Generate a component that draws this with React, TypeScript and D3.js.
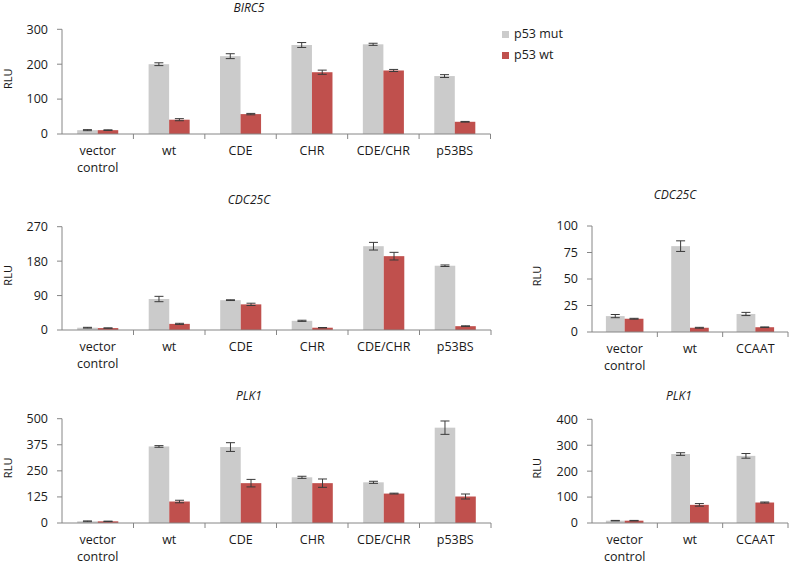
import React from "react";
import * as d3 from "d3";

// luciferase reporter data
const series = ["p53 mut", "p53 wt"];
const longCategories = ["vector control", "wt", "CDE", "CHR", "CDE/CHR", "p53BS"];
const shortCategories = ["vector control", "wt", "CCAAT"];

const birc5Mut = [11, 200, 223, 255, 257, 166];
const birc5MutErr = [1.5, 4, 7, 7, 3, 4];
const birc5Wt = [11, 41, 57, 177, 182, 35];
const birc5WtErr = [1, 3, 2, 6, 3, 1];
const birc5Ticks = [0, 100, 200, 300];

const cdc25cMut = [6, 81, 78, 24, 219, 168];
const cdc25cMutErr = [1, 7, 1, 1.5, 10, 2];
const cdc25cWt = [5, 16, 67, 6, 193, 10];
const cdc25cWtErr = [0.5, 1.5, 3, 0.5, 10, 1];
const cdc25cTicks = [0, 90, 180, 270];

const cdc25cShortMut = [15, 81, 17];
const cdc25cShortMutErr = [1.5, 5, 1.5];
const cdc25cShortWt = [12.5, 4, 4.5];
const cdc25cShortWtErr = [0.4, 0.4, 0.3];
const cdc25cShortTicks = [0, 25, 50, 75, 100];

const plk1Mut = [8, 367, 364, 219, 195, 457];
const plk1MutErr = [2, 4, 21, 5, 5, 32];
const plk1Wt = [8, 103, 191, 191, 141, 127];
const plk1WtErr = [1, 6, 18, 20, 2, 12];
const plk1Ticks = [0, 125, 250, 375, 500];

const plk1ShortMut = [9, 266, 259];
const plk1ShortMutErr = [1, 5, 9];
const plk1ShortWt = [9, 70, 79];
const plk1ShortWtErr = [1, 5, 2];
const plk1ShortTicks = [0, 100, 200, 300, 400];

const colors = ["#cbcbcb", "#c0504d"];
const font = "'Open Sans', sans-serif";

const Panel = ({ title, categories, mut, mutErr, wt, wtErr, ticks, left, right, top, bottom, titleX, titleY, labelX }) => {
  const x = d3.scaleBand().domain(categories).range([left, right]);
  const inner = d3.scaleBand().domain(series).range([0, x.bandwidth()]).paddingOuter(0.74);
  const y = d3.scaleLinear().domain([0, d3.max(ticks)]).range([bottom, top]);
  const values = [mut, wt];
  const errors = [mutErr, wtErr];

  return (
    <g>
      <text x={titleX} y={titleY} textAnchor="middle" fontStyle="italic" fontSize={12} fontFamily={font} fill="#1a1a1a">
        {title}
      </text>
      <text
        transform={`translate(${labelX},${(top + bottom) / 2 - 3}) rotate(-90)`}
        textAnchor="middle"
        dy="0.35em"
        fontSize={11}
        fontFamily={font}
        fill="#1a1a1a"
      >
        RLU
      </text>

      {series.map((s, si) =>
        categories.map((c, ci) => {
          const v = values[si][ci];
          const e = errors[si][ci];
          const bx = x(c) + inner(s);
          const cx = bx + inner.bandwidth() / 2;
          return (
            <g key={s + c}>
              <rect x={bx} y={y(v)} width={inner.bandwidth()} height={y(0) - y(v)} fill={colors[si]} />
              <line x1={cx} x2={cx} y1={y(v - e)} y2={y(v + e)} stroke="#3a3a3a" />
              <line x1={cx - 4.5} x2={cx + 4.5} y1={y(v + e)} y2={y(v + e)} stroke="#3a3a3a" />
              <line x1={cx - 4.5} x2={cx + 4.5} y1={y(v - e)} y2={y(v - e)} stroke="#3a3a3a" />
            </g>
          );
        })
      )}

      {/* y axis */}
      <line x1={left} x2={left} y1={top} y2={bottom} stroke="#868686" />
      {ticks.map(t => (
        <g key={t}>
          <line x1={left - 5} x2={left} y1={y(t)} y2={y(t)} stroke="#868686" />
          <text x={left - 14} y={y(t)} dy="0.35em" textAnchor="end" fontSize={12.5} fontFamily={font} fill="#1a1a1a">
            {t}
          </text>
        </g>
      ))}

      {/* x axis */}
      <line x1={left} x2={right} y1={y(0)} y2={y(0)} stroke="#868686" />
      {categories.map(c => (
        <line key={c} x1={x(c) + x.bandwidth()} x2={x(c) + x.bandwidth()} y1={y(0)} y2={y(0) + 5} stroke="#868686" />
      ))}
      {categories.map(c => (
        <text key={c} x={x(c) + x.bandwidth() / 2} y={y(0) + 21} textAnchor="middle" fontSize={12.5} fontFamily={font} fill="#1a1a1a">
          {c.split(" ").map((w, i) => (
            <tspan key={w} x={x(c) + x.bandwidth() / 2} dy={i === 0 ? 0 : 16.5}>
              {w}
            </tspan>
          ))}
        </text>
      ))}
    </g>
  );
};

export default function App() {
  return (
    <svg width={789} height={564} style={{ position: "absolute", left: 0, top: 0, background: "#fff" }}>
      <Panel title="BIRC5" categories={longCategories} mut={birc5Mut} mutErr={birc5MutErr} wt={birc5Wt} wtErr={birc5WtErr}
        ticks={birc5Ticks} left={62} right={490.5} top={29.3} bottom={134} titleX={249} titleY={12} labelX={8} />
      <Panel title="CDC25C" categories={longCategories} mut={cdc25cMut} mutErr={cdc25cMutErr} wt={cdc25cWt} wtErr={cdc25cWtErr}
        ticks={cdc25cTicks} left={62} right={491} top={226.7} bottom={330} titleX={249} titleY={204} labelX={8} />
      <Panel title="CDC25C" categories={shortCategories} mut={cdc25cShortMut} mutErr={cdc25cShortMutErr} wt={cdc25cShortWt}
        wtErr={cdc25cShortWtErr} ticks={cdc25cShortTicks} left={592} right={788} top={226} bottom={332} titleX={675} titleY={199} labelX={537} />
      <Panel title="PLK1" categories={longCategories} mut={plk1Mut} mutErr={plk1MutErr} wt={plk1Wt} wtErr={plk1WtErr}
        ticks={plk1Ticks} left={62} right={491} top={418.7} bottom={523} titleX={249} titleY={400} labelX={8} />
      <Panel title="PLK1" categories={shortCategories} mut={plk1ShortMut} mutErr={plk1ShortMutErr} wt={plk1ShortWt}
        wtErr={plk1ShortWtErr} ticks={plk1ShortTicks} left={592} right={788} top={419.3} bottom={523} titleX={679} titleY={400} labelX={537} />

      {/* legend */}
      {series.map((s, i) => (
        <g key={s} transform={`translate(502,${31 + i * 21})`}>
          <rect width={7} height={7} fill={colors[i]} />
          <text x={12} y={7} fontSize={12.5} fontFamily={font} fill="#1a1a1a">
            {s}
          </text>
        </g>
      ))}
    </svg>
  );
}
